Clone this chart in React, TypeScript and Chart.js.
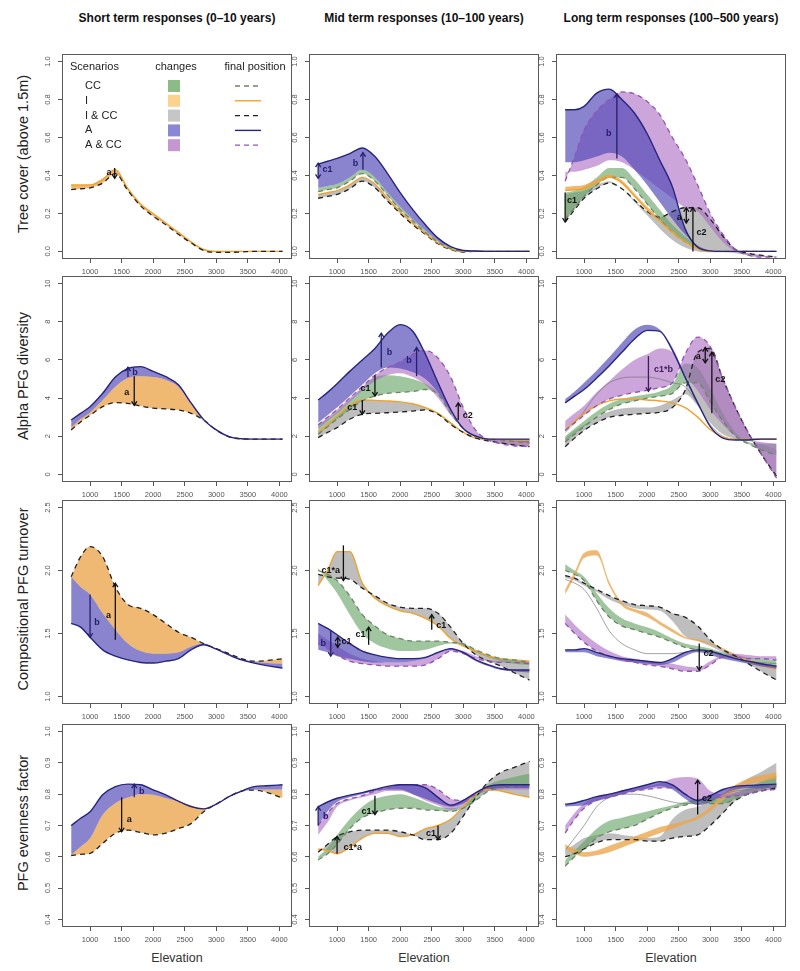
import React, { useEffect, useRef } from 'react';
import { Chart, registerables } from 'chart.js';

Chart.register(...registerables);
Chart.defaults.font.family = "'Liberation Sans', Arial, Helvetica, sans-serif";

// ---------- axes ----------
const ELEV = [700, 850, 1000, 1200, 1400, 1600, 1800, 2000, 2200, 2400, 2600, 2800, 3000, 3200, 3400, 3600, 3800, 4050];
const ELEV_TICKS = [1000, 1500, 2000, 2500, 3000, 3500, 4000];

const TREE_TICKS = [0, 0.2, 0.4, 0.6, 0.8, 1.0];
const TREE_TICK_LABELS = ['0.0', '0.2', '0.4', '0.6', '0.8', '1.0'];
const ALPHA_TICKS = [0, 2, 4, 6, 8, 10];
const ALPHA_TICK_LABELS = ['0', '2', '4', '6', '8', '10'];
const TURN_TICKS = [1.0, 1.5, 2.0, 2.5];
const TURN_TICK_LABELS = ['1.0', '1.5', '2.0', '2.5'];
const EVEN_TICKS = [0.4, 0.5, 0.6, 0.7, 0.8, 0.9, 1.0];
const EVEN_TICK_LABELS = ['0.4', '0.5', '0.6', '0.7', '0.8', '0.9', '1.0'];

const COLUMN_TITLES = ['Short term responses (0\u201310 years)', 'Mid term responses (10\u2013100 years)', 'Long term responses (100\u2013500 years)'];
const ROW_TITLES = ['Tree cover (above 1.5m)', 'Alpha PFG diversity', 'Compositional PFG turnover', 'PFG evenness factor'];
const LEGEND_LABELS = ['CC', 'I', 'I & CC', 'A', 'A & CC'];
const LEGEND_KEYS = ['CC', 'I', 'IC', 'A', 'ACC'];

// ---------- short term ----------
const treeShort_base = [0.35, 0.35, 0.35, 0.38, 0.43, 0.33, 0.25, 0.20, 0.15, 0.10, 0.05, 0.01, 0, 0, 0, 0, 0, 0];
const treeShort_I = [0.325, 0.33, 0.335, 0.36, 0.41, 0.32, 0.24, 0.185, 0.14, 0.09, 0.045, 0.005, -0.005, -0.005, -0.003, 0, 0, 0];

const alphaShort_base = [2.45, 2.9, 3.25, 3.9, 4.6, 5.05, 5.15, 5.1, 4.95, 4.6, 3.7, 2.85, 2.3, 1.98, 1.86, 1.85, 1.85, 1.85];
const alphaShort_A = [2.85, 3.2, 3.55, 4.25, 5.1, 5.55, 5.65, 5.4, 5.12, 4.7, 3.75, 2.87, 2.33, 1.98, 1.87, 1.85, 1.85, 1.85];
const alphaShort_I = [2.33, 2.75, 3.1, 3.55, 3.76, 3.72, 3.58, 3.47, 3.43, 3.37, 3.2, 2.85, 2.32, 1.97, 1.86, 1.85, 1.85, 1.85];

const turnShort_I = [1.95, 2.11, 2.19, 2.11, 1.87, 1.73, 1.70, 1.65, 1.58, 1.51, 1.47, 1.42, 1.38, 1.34, 1.30, 1.28, 1.285, 1.30];
const turnShort_base = [1.95, 1.87, 1.81, 1.66, 1.53, 1.42, 1.36, 1.34, 1.34, 1.35, 1.395, 1.42, 1.38, 1.34, 1.30, 1.275, 1.265, 1.26];
const turnShort_A = [1.58, 1.55, 1.47, 1.37, 1.32, 1.29, 1.27, 1.265, 1.28, 1.30, 1.37, 1.41, 1.375, 1.33, 1.29, 1.265, 1.245, 1.225];

const evenShort_A = [0.70, 0.723, 0.744, 0.798, 0.824, 0.832, 0.83, 0.814, 0.798, 0.778, 0.76, 0.753, 0.768, 0.792, 0.81, 0.824, 0.827, 0.83];
const evenShort_base = [0.606, 0.632, 0.659, 0.734, 0.771, 0.789, 0.80, 0.798, 0.787, 0.777, 0.764, 0.752, 0.768, 0.792, 0.808, 0.815, 0.815, 0.815];
const evenShort_I = [0.604, 0.608, 0.611, 0.643, 0.675, 0.685, 0.678, 0.67, 0.676, 0.69, 0.706, 0.744, 0.768, 0.792, 0.81, 0.813, 0.806, 0.787];

// ---------- mid term ----------
const treeMid_A = [0.46, 0.475, 0.49, 0.515, 0.545, 0.50, 0.41, 0.31, 0.22, 0.14, 0.07, 0.025, 0.005, 0.002, 0, 0, 0, 0];
const treeMid_base = [0.335, 0.345, 0.355, 0.39, 0.43, 0.39, 0.31, 0.235, 0.17, 0.11, 0.055, 0.02, 0.003, 0, 0, 0, 0, 0];
const treeMid_CC = [0.315, 0.325, 0.335, 0.37, 0.41, 0.37, 0.295, 0.22, 0.16, 0.10, 0.05, 0.015, 0.002, 0, 0, 0, 0, 0];
const treeMid_I = [0.30, 0.31, 0.32, 0.35, 0.39, 0.355, 0.28, 0.21, 0.15, 0.095, 0.045, 0.012, 0, 0, 0, 0, 0, 0];
const treeMid_IC = [0.28, 0.29, 0.30, 0.33, 0.37, 0.335, 0.265, 0.20, 0.14, 0.09, 0.04, 0.01, -0.003, 0, 0, 0, 0, 0];

const alphaMid_A = [3.9, 4.3, 4.75, 5.4, 6.0, 6.6, 7.4, 7.85, 7.5, 6.3, 4.8, 3.4, 2.4, 2.0, 1.85, 1.85, 1.85, 1.85];
const alphaMid_Abase = [2.7, 3.1, 3.5, 4.1, 4.7, 5.3, 5.6, 5.55, 5.35, 5.0, 4.3, 3.3, 2.45, 2.0, 1.85, 1.8, 1.75, 1.7];
const alphaMid_ACC = [2.6, 3.0, 3.4, 4.0, 4.6, 5.2, 5.6, 5.9, 6.3, 6.5, 6.1, 5.1, 3.5, 2.3, 1.8, 1.6, 1.5, 1.45];
const alphaMid_ACCbase = [2.4, 2.8, 3.2, 3.8, 4.4, 4.9, 5.2, 5.3, 5.1, 4.7, 4.0, 3.1, 2.4, 1.95, 1.85, 1.8, 1.75, 1.7];
const alphaMid_CCbase = [2.6, 2.9, 3.3, 3.9, 4.5, 5.1, 5.2, 5.15, 5.0, 4.75, 4.3, 3.3, 2.4, 2.0, 1.85, 1.8, 1.75, 1.7];
const alphaMid_CC = [2.1, 2.5, 2.9, 3.4, 3.85, 4.1, 4.25, 4.3, 4.35, 4.45, 4.2, 3.2, 2.4, 2.0, 1.85, 1.8, 1.72, 1.65];
const alphaMid_I = [2.2, 2.6, 3.06, 3.6, 3.9, 3.88, 3.85, 3.8, 3.7, 3.5, 3.2, 2.7, 2.2, 1.9, 1.85, 1.82, 1.8, 1.78];
const alphaMid_IC = [1.93, 2.2, 2.45, 2.89, 3.15, 3.2, 3.23, 3.27, 3.32, 3.38, 3.15, 2.62, 2.2, 1.9, 1.75, 1.65, 1.55, 1.45];

const turnMid_I = [1.88, 2.0, 2.15, 2.15, 1.9, 1.78, 1.72, 1.68, 1.66, 1.62, 1.56, 1.46, 1.40, 1.36, 1.32, 1.30, 1.29, 1.28];
const turnMid_IC = [1.97, 1.95, 1.94, 1.93, 1.86, 1.80, 1.74, 1.71, 1.70, 1.70, 1.66, 1.55, 1.42, 1.33, 1.28, 1.24, 1.19, 1.13];
const turnMid_CC = [2.0, 1.97, 1.92, 1.8, 1.65, 1.56, 1.49, 1.46, 1.44, 1.44, 1.44, 1.43, 1.42, 1.37, 1.33, 1.30, 1.29, 1.27];
const turnMid_CCbase = [2.02, 1.92, 1.82, 1.65, 1.5, 1.42, 1.38, 1.36, 1.36, 1.37, 1.40, 1.42, 1.40, 1.35, 1.31, 1.28, 1.26, 1.25];
const turnMid_A = [1.58, 1.54, 1.49, 1.42, 1.36, 1.33, 1.31, 1.30, 1.30, 1.31, 1.35, 1.38, 1.35, 1.29, 1.25, 1.22, 1.21, 1.21];
const turnMid_Abase = [1.37, 1.35, 1.32, 1.30, 1.28, 1.27, 1.27, 1.27, 1.28, 1.30, 1.34, 1.37, 1.34, 1.28, 1.24, 1.21, 1.20, 1.19];
const turnMid_ACC = [1.42, 1.38, 1.33, 1.28, 1.26, 1.25, 1.24, 1.24, 1.24, 1.25, 1.30, 1.36, 1.34, 1.30, 1.28, 1.27, 1.27, 1.26];
const turnMid_ACCbase = [1.5, 1.45, 1.40, 1.34, 1.3, 1.28, 1.27, 1.27, 1.28, 1.30, 1.34, 1.38, 1.36, 1.32, 1.29, 1.28, 1.27, 1.27];

const evenMid_A = [0.76, 0.775, 0.787, 0.797, 0.805, 0.815, 0.825, 0.83, 0.83, 0.82, 0.79, 0.765, 0.78, 0.805, 0.825, 0.83, 0.83, 0.83];
const evenMid_Abase = [0.70, 0.745, 0.775, 0.79, 0.80, 0.81, 0.815, 0.815, 0.80, 0.785, 0.77, 0.76, 0.77, 0.80, 0.815, 0.82, 0.82, 0.82];
const evenMid_ACC = [0.70, 0.74, 0.77, 0.785, 0.795, 0.81, 0.82, 0.83, 0.83, 0.83, 0.815, 0.785, 0.78, 0.80, 0.82, 0.825, 0.83, 0.83];
const evenMid_ACCbase = [0.67, 0.71, 0.76, 0.78, 0.79, 0.80, 0.81, 0.81, 0.80, 0.78, 0.765, 0.75, 0.765, 0.795, 0.81, 0.815, 0.815, 0.815];
const evenMid_CCbase = [0.60, 0.63, 0.67, 0.72, 0.76, 0.785, 0.795, 0.80, 0.79, 0.775, 0.76, 0.755, 0.765, 0.80, 0.83, 0.845, 0.855, 0.865];
const evenMid_CC = [0.59, 0.61, 0.64, 0.69, 0.725, 0.74, 0.75, 0.755, 0.755, 0.75, 0.748, 0.745, 0.755, 0.78, 0.81, 0.82, 0.825, 0.83];
const evenMid_I = [0.625, 0.62, 0.61, 0.63, 0.66, 0.675, 0.675, 0.665, 0.67, 0.69, 0.70, 0.72, 0.76, 0.80, 0.815, 0.81, 0.80, 0.79];
const evenMid_IC = [0.615, 0.64, 0.665, 0.68, 0.685, 0.685, 0.685, 0.68, 0.67, 0.655, 0.655, 0.675, 0.73, 0.79, 0.84, 0.87, 0.885, 0.905];

// ---------- long term ----------
const treeLong_A = [0.746, 0.746, 0.764, 0.834, 0.855, 0.80, 0.728, 0.62, 0.48, 0.34, 0.12, 0.022, 0.003, 0, 0, 0, 0, 0];
const treeLong_Abase = [0.47, 0.47, 0.48, 0.50, 0.52, 0.50, 0.43, 0.35, 0.26, 0.17, 0.09, 0.03, 0.005, 0, 0, 0, 0, 0];
const treeLong_ACC = [0.37, 0.5, 0.64, 0.74, 0.8, 0.84, 0.83, 0.79, 0.72, 0.6, 0.49, 0.35, 0.2, 0.09, 0.01, -0.02, -0.03, -0.03];
const treeLong_ACCbase = [0.42, 0.42, 0.43, 0.45, 0.48, 0.47, 0.43, 0.38, 0.33, 0.28, 0.23, 0.21, 0.13, 0.05, 0.0, -0.01, -0.02, -0.03];
const treeLong_IC = [0.155, 0.22, 0.28, 0.33, 0.36, 0.33, 0.27, 0.21, 0.18, 0.21, 0.23, 0.23, 0.17, 0.08, 0.01, -0.01, -0.02, -0.03];
const treeLong_ICbase = [0.30, 0.31, 0.32, 0.35, 0.37, 0.33, 0.26, 0.19, 0.12, 0.06, 0.02, 0.0, -0.005, -0.005, -0.01, -0.02, -0.025, -0.03];
const treeLong_CC = [0.17, 0.23, 0.29, 0.35, 0.39, 0.39, 0.33, 0.25, 0.17, 0.10, 0.05, 0.015, 0, 0, 0, 0, 0, 0];
const treeLong_CCbase = [0.31, 0.32, 0.34, 0.39, 0.44, 0.44, 0.38, 0.30, 0.22, 0.14, 0.08, 0.03, 0.005, 0, 0, 0, 0, 0];
const treeLong_I = [0.32, 0.325, 0.33, 0.36, 0.39, 0.36, 0.29, 0.22, 0.16, 0.10, 0.05, 0.015, 0, 0, 0, 0, 0, 0];
const treeLong_Ibase = [0.34, 0.345, 0.35, 0.38, 0.405, 0.375, 0.305, 0.235, 0.17, 0.11, 0.055, 0.02, 0, 0, 0, 0, 0, 0];

const alphaLong_A = [3.75, 4.1, 4.45, 5.05, 5.7, 6.4, 7.1, 7.55, 7.5, 6.5, 5.1, 3.75, 2.5, 1.9, 1.8, 1.8, 1.85, 1.85];
const alphaLong_Abase = [3.95, 4.35, 4.8, 5.45, 6.15, 6.9, 7.6, 7.85, 7.6, 6.65, 5.2, 3.8, 2.5, 1.9, 1.8, 1.8, 1.85, 1.85];
const alphaLong_ACC = [2.3, 2.7, 3.1, 3.6, 3.95, 4.15, 4.3, 4.4, 4.55, 4.8, 6.3, 7.2, 6.7, 5.0, 3.5, 2.2, 1.1, -0.2];
const alphaLong_ACCbase = [2.8, 3.2, 3.6, 4.3, 4.9, 5.5, 6.0, 6.3, 6.6, 6.4, 5.2, 4.4, 3.4, 2.6, 2.0, 1.8, 1.7, 1.6];
const alphaLong_IC = [1.45, 1.9, 2.3, 2.7, 3.0, 3.1, 3.15, 3.2, 3.25, 3.5, 4.4, 6.4, 6.6, 5.0, 3.5, 2.2, 1.1, -0.1];
const alphaLong_ICbase = [1.9, 2.3, 2.6, 3.0, 3.3, 3.45, 3.5, 3.5, 3.6, 3.9, 4.2, 3.6, 2.7, 2.1, 1.85, 1.75, 1.6, 1.3];
const alphaLong_CC = [1.7, 2.1, 2.5, 3.0, 3.4, 3.7, 3.85, 4.0, 4.1, 4.25, 4.8, 4.8, 3.8, 2.8, 2.0, 1.6, 1.3, 1.0];
const alphaLong_CCbase = [2.0, 2.4, 2.8, 3.3, 3.7, 3.95, 4.1, 4.2, 4.35, 4.7, 5.8, 5.6, 4.5, 3.2, 2.2, 1.7, 1.6, 1.6];
const alphaLong_I = [2.3, 2.8, 3.2, 3.6, 3.85, 3.95, 3.95, 3.9, 3.85, 3.75, 3.5, 3.0, 2.35, 1.95, 1.85, 1.85, 1.85, 1.85];
const alphaLong_ref = [2.2, 2.7, 3.3, 4.2, 4.8, 5.05, 5.1, 5.1, 5.0, 4.8, 4.6, 3.7, 2.6, 2.0, 1.85, 1.85, 1.85, 1.85];

const turnLong_Ibase = [1.85, 1.99, 2.14, 2.16, 1.91, 1.745, 1.695, 1.665, 1.595, 1.535, 1.475, 1.455, 1.425, 1.385, 1.335, 1.295, 1.265, 1.245];
const turnLong_I = [1.81, 1.95, 2.1, 2.12, 1.88, 1.72, 1.67, 1.63, 1.57, 1.51, 1.46, 1.44, 1.41, 1.37, 1.31, 1.27, 1.24, 1.21];
const turnLong_CCbase = [2.05, 2.0, 1.95, 1.82, 1.7, 1.62, 1.58, 1.55, 1.51, 1.46, 1.42, 1.4, 1.38, 1.35, 1.33, 1.31, 1.3, 1.29];
const turnLong_CC = [2.0, 1.97, 1.92, 1.76, 1.63, 1.56, 1.53, 1.5, 1.47, 1.43, 1.39, 1.37, 1.35, 1.33, 1.3, 1.27, 1.26, 1.24];
const turnLong_IC = [1.96, 1.94, 1.9, 1.85, 1.8, 1.76, 1.73, 1.72, 1.71, 1.66, 1.63, 1.56, 1.45, 1.37, 1.32, 1.26, 1.2, 1.13];
const turnLong_ICbase = [1.94, 1.92, 1.88, 1.83, 1.77, 1.73, 1.7, 1.69, 1.68, 1.6, 1.48, 1.44, 1.4, 1.35, 1.31, 1.28, 1.26, 1.25];
const turnLong_ACC = [1.58, 1.5, 1.43, 1.36, 1.32, 1.29, 1.27, 1.25, 1.24, 1.22, 1.2, 1.2, 1.25, 1.31, 1.31, 1.3, 1.3, 1.29];
const turnLong_ACCbase = [1.65, 1.57, 1.5, 1.42, 1.36, 1.32, 1.3, 1.28, 1.27, 1.26, 1.24, 1.23, 1.28, 1.33, 1.34, 1.33, 1.32, 1.32];
const turnLong_A = [1.37, 1.37, 1.38, 1.35, 1.32, 1.3, 1.29, 1.28, 1.27, 1.3, 1.35, 1.37, 1.36, 1.33, 1.3, 1.28, 1.26, 1.24];
const turnLong_Abase = [1.35, 1.35, 1.35, 1.32, 1.3, 1.28, 1.27, 1.26, 1.25, 1.27, 1.32, 1.35, 1.33, 1.3, 1.28, 1.26, 1.24, 1.22];
const turnLong_ref = [1.93, 1.9, 1.85, 1.7, 1.52, 1.42, 1.37, 1.34, 1.34, 1.34, 1.35, 1.36, 1.35, 1.32, 1.3, 1.28, 1.27, 1.26];

const evenLong_A = [0.768, 0.772, 0.78, 0.792, 0.80, 0.81, 0.82, 0.83, 0.84, 0.83, 0.80, 0.78, 0.795, 0.815, 0.825, 0.828, 0.83, 0.832];
const evenLong_Abase = [0.76, 0.762, 0.765, 0.778, 0.788, 0.80, 0.81, 0.818, 0.825, 0.815, 0.785, 0.765, 0.775, 0.80, 0.815, 0.82, 0.82, 0.822];
const evenLong_ACC = [0.676, 0.72, 0.755, 0.78, 0.79, 0.80, 0.81, 0.815, 0.82, 0.82, 0.80, 0.78, 0.79, 0.79, 0.795, 0.80, 0.81, 0.815];
const evenLong_ACCbase = [0.70, 0.74, 0.77, 0.79, 0.80, 0.81, 0.82, 0.825, 0.835, 0.85, 0.855, 0.85, 0.81, 0.80, 0.805, 0.815, 0.82, 0.825];
const evenLong_CCbase = [0.59, 0.62, 0.65, 0.69, 0.715, 0.725, 0.735, 0.745, 0.755, 0.765, 0.775, 0.785, 0.79, 0.79, 0.805, 0.82, 0.84, 0.86];
const evenLong_CC = [0.57, 0.6, 0.625, 0.66, 0.68, 0.69, 0.7, 0.72, 0.74, 0.755, 0.765, 0.775, 0.77, 0.77, 0.785, 0.80, 0.815, 0.83];
const evenLong_ICbase = [0.62, 0.64, 0.66, 0.67, 0.675, 0.67, 0.665, 0.66, 0.665, 0.72, 0.75, 0.76, 0.78, 0.8, 0.82, 0.85, 0.87, 0.9];
const evenLong_IC = [0.6, 0.61, 0.625, 0.645, 0.655, 0.655, 0.655, 0.65, 0.65, 0.66, 0.665, 0.67, 0.7, 0.74, 0.78, 0.8, 0.81, 0.82];
const evenLong_Ibase = [0.64, 0.625, 0.615, 0.62, 0.635, 0.65, 0.665, 0.68, 0.695, 0.705, 0.715, 0.73, 0.76, 0.8, 0.83, 0.85, 0.86, 0.87];
const evenLong_I = [0.625, 0.61, 0.6, 0.605, 0.615, 0.63, 0.645, 0.66, 0.675, 0.69, 0.705, 0.72, 0.745, 0.78, 0.81, 0.83, 0.84, 0.85];
const evenLong_ref = [0.62, 0.66, 0.7, 0.76, 0.79, 0.80, 0.80, 0.795, 0.785, 0.775, 0.77, 0.77, 0.78, 0.8, 0.81, 0.815, 0.82, 0.825];

// ---------- arrows (elevation, from, to, label, label position) ----------
const NAVY_TXT = '#23206e';
const treeShort_arrows = [{ x: 1390, y0: 0.44, y1: 0.385, text: 'a', tx: 1300, ty: 0.415 }];
const alphaShort_arrows = [
  { x: 1600, y0: 5.1, y1: 5.62, text: 'b', tx: 1710, ty: 5.35, navy: true },
  { x: 1700, y0: 5.15, y1: 3.62, text: 'a', tx: 1580, ty: 4.3 },
];
const turnShort_arrows = [
  { x: 1000, y0: 1.81, y1: 1.47, text: 'b', tx: 1110, ty: 1.59, navy: true },
  { x: 1400, y0: 1.45, y1: 1.9, text: 'a', tx: 1290, ty: 1.64 },
];
const evenShort_arrows = [
  { x: 1700, y0: 0.79, y1: 0.832, text: 'b', tx: 1820, ty: 0.81, navy: true },
  { x: 1500, y0: 0.79, y1: 0.68, text: 'a', tx: 1620, ty: 0.72 },
];
const treeMid_arrows = [
  { x: 700, y0: 0.385, y1: 0.465, both: true, text: 'c1', tx: 850, ty: 0.43, navy: true },
  { x: 1410, y0: 0.43, y1: 0.52, text: 'b', tx: 1290, ty: 0.465, navy: true },
];
const alphaMid_arrows = [
  { x: 1700, y0: 5.6, y1: 7.4, text: 'b', tx: 1830, ty: 6.4, navy: true },
  { x: 2260, y0: 5.15, y1: 6.65, text: 'b', tx: 2140, ty: 5.95, navy: true },
  { x: 1600, y0: 5.2, y1: 4.1, text: 'c1', tx: 1450, ty: 4.5 },
  { x: 1400, y0: 3.9, y1: 3.15, text: 'c1', tx: 1240, ty: 3.5 },
  { x: 2920, y0: 2.85, y1: 3.75, text: 'c2', tx: 3070, ty: 3.1 },
];
const turnMid_arrows = [
  { x: 1100, y0: 2.2, y1: 1.92, text: 'c1*a', tx: 900, ty: 2.0 },
  { x: 900, y0: 1.52, y1: 1.32, text: 'b', tx: 780, ty: 1.42, navy: true },
  { x: 1010, y0: 1.47, y1: 1.39, both: true, text: 'c1', tx: 1150, ty: 1.44 },
  { x: 1500, y0: 1.41, y1: 1.55, text: 'c1', tx: 1370, ty: 1.49 },
  { x: 2500, y0: 1.53, y1: 1.65, text: 'c1', tx: 2650, ty: 1.56 },
];
const evenMid_arrows = [
  { x: 700, y0: 0.70, y1: 0.76, text: 'b', tx: 820, ty: 0.73, navy: true },
  { x: 1600, y0: 0.795, y1: 0.735, text: 'c1', tx: 1465, ty: 0.745 },
  { x: 1000, y0: 0.61, y1: 0.665, text: 'c1*a', tx: 1250, ty: 0.63 },
  { x: 2600, y0: 0.70, y1: 0.655, text: 'c1', tx: 2490, ty: 0.676 },
];
const treeLong_arrows = [
  { x: 1520, y0: 0.49, y1: 0.83, text: 'b', tx: 1390, ty: 0.62, navy: true },
  { x: 700, y0: 0.31, y1: 0.155, text: 'c1', tx: 810, ty: 0.27 },
  { x: 2620, y0: 0.15, y1: 0.23, both: true, text: 'a', tx: 2510, ty: 0.18 },
  { x: 2725, y0: 0.0, y1: 0.23, text: 'c2', tx: 2860, ty: 0.1 },
];
const alphaLong_arrows = [
  { x: 2020, y0: 6.2, y1: 4.35, text: 'c1*b', tx: 2260, ty: 5.5, purple: true },
  { x: 2920, y0: 5.85, y1: 6.65, both: true, text: 'a', tx: 2810, ty: 6.2 },
  { x: 3025, y0: 3.2, y1: 6.4, text: 'c2', tx: 3160, ty: 4.95 },
];
const turnLong_arrows = [{ x: 2825, y0: 1.42, y1: 1.21, text: 'c2', tx: 2970, ty: 1.34 }];
const evenLong_arrows = [{ x: 2800, y0: 0.735, y1: 0.845, text: 'c2', tx: 2950, ty: 0.785 }];

// ---------- styles ----------
const FILL: Record<string, string> = {
  CC: 'rgba(95,160,95,0.6)',
  I: 'rgba(235,165,75,0.78)',
  IC: 'rgba(125,125,125,0.5)',
  A: 'rgba(78,68,180,0.66)',
  ACC: 'rgba(170,105,195,0.6)',
};
const SWATCH: Record<string, string> = {
  CC: '#8dbb88', I: '#fbd38f', IC: '#c6c6c6', A: '#8a88d4', ACC: '#c597d0',
};
const LINE: Record<string, { color: string; dash: number[]; width: number }> = {
  CC: { color: '#6d8466', dash: [5, 4], width: 1.3 },
  I: { color: '#f0a22e', dash: [], width: 1.4 },
  IC: { color: '#222222', dash: [5, 4], width: 1.3 },
  A: { color: '#27247e', dash: [], width: 1.4 },
  ACC: { color: '#8f56b0', dash: [5, 4], width: 1.3 },
  REF: { color: 'rgba(110,110,110,0.8)', dash: [], width: 0.8 },
};

const ROWS = [
  { top: 54, h: 205, min: -0.04, max: 1.04, ticks: TREE_TICKS, labels: TREE_TICK_LABELS },
  { top: 276, h: 206, min: -0.4, max: 10.4, ticks: ALPHA_TICKS, labels: ALPHA_TICK_LABELS },
  { top: 500, h: 204, min: 0.94, max: 2.56, ticks: TURN_TICKS, labels: TURN_TICK_LABELS },
  { top: 724, h: 203, min: 0.376, max: 1.024, ticks: EVEN_TICKS, labels: EVEN_TICK_LABELS },
];
const COLS = [62, 309, 556];
const BOX_W = 230;

type Band = { scen: string; from: number[]; to: number[] };
type Ln = { scen: string; data: number[] };
type Spec = { row: number; col: number; bands: Band[]; lines: Ln[]; arrows: any[]; legend?: boolean };

const PANELS: Spec[] = [
  { row: 0, col: 0, legend: true,
    bands: [{ scen: 'I', from: treeShort_base, to: treeShort_I }],
    lines: [{ scen: 'I', data: treeShort_base }, { scen: 'IC', data: treeShort_I }],
    arrows: treeShort_arrows },
  { row: 1, col: 0,
    bands: [{ scen: 'I', from: alphaShort_base, to: alphaShort_I }, { scen: 'A', from: alphaShort_base, to: alphaShort_A }],
    lines: [{ scen: 'IC', data: alphaShort_I }, { scen: 'A', data: alphaShort_A }],
    arrows: alphaShort_arrows },
  { row: 2, col: 0,
    bands: [{ scen: 'I', from: turnShort_base, to: turnShort_I }, { scen: 'A', from: turnShort_base, to: turnShort_A }],
    lines: [{ scen: 'IC', data: turnShort_I }, { scen: 'A', data: turnShort_A }],
    arrows: turnShort_arrows },
  { row: 3, col: 0,
    bands: [{ scen: 'I', from: evenShort_base, to: evenShort_I }, { scen: 'A', from: evenShort_base, to: evenShort_A }],
    lines: [{ scen: 'IC', data: evenShort_I }, { scen: 'A', data: evenShort_A }],
    arrows: evenShort_arrows },
  { row: 0, col: 1,
    bands: [{ scen: 'IC', from: treeMid_I, to: treeMid_IC }, { scen: 'CC', from: treeMid_base, to: treeMid_CC }, { scen: 'A', from: treeMid_base, to: treeMid_A }],
    lines: [{ scen: 'IC', data: treeMid_IC }, { scen: 'I', data: treeMid_I }, { scen: 'CC', data: treeMid_CC }, { scen: 'A', data: treeMid_A }],
    arrows: treeMid_arrows },
  { row: 1, col: 1,
    bands: [{ scen: 'IC', from: alphaMid_I, to: alphaMid_IC }, { scen: 'CC', from: alphaMid_CCbase, to: alphaMid_CC }, { scen: 'ACC', from: alphaMid_ACCbase, to: alphaMid_ACC }, { scen: 'A', from: alphaMid_Abase, to: alphaMid_A }],
    lines: [{ scen: 'I', data: alphaMid_I }, { scen: 'IC', data: alphaMid_IC }, { scen: 'CC', data: alphaMid_CC }, { scen: 'ACC', data: alphaMid_ACC }, { scen: 'A', data: alphaMid_A }],
    arrows: alphaMid_arrows },
  { row: 2, col: 1,
    bands: [{ scen: 'IC', from: turnMid_I, to: turnMid_IC }, { scen: 'CC', from: turnMid_CCbase, to: turnMid_CC }, { scen: 'ACC', from: turnMid_ACCbase, to: turnMid_ACC }, { scen: 'A', from: turnMid_Abase, to: turnMid_A }],
    lines: [{ scen: 'I', data: turnMid_I }, { scen: 'IC', data: turnMid_IC }, { scen: 'CC', data: turnMid_CC }, { scen: 'ACC', data: turnMid_ACC }, { scen: 'A', data: turnMid_A }],
    arrows: turnMid_arrows },
  { row: 3, col: 1,
    bands: [{ scen: 'IC', from: evenMid_I, to: evenMid_IC }, { scen: 'CC', from: evenMid_CCbase, to: evenMid_CC }, { scen: 'ACC', from: evenMid_ACCbase, to: evenMid_ACC }, { scen: 'A', from: evenMid_Abase, to: evenMid_A }],
    lines: [{ scen: 'I', data: evenMid_I }, { scen: 'IC', data: evenMid_IC }, { scen: 'CC', data: evenMid_CC }, { scen: 'ACC', data: evenMid_ACC }, { scen: 'A', data: evenMid_A }],
    arrows: evenMid_arrows },
  { row: 0, col: 2,
    bands: [{ scen: 'IC', from: treeLong_ICbase, to: treeLong_IC }, { scen: 'CC', from: treeLong_CCbase, to: treeLong_CC }, { scen: 'I', from: treeLong_Ibase, to: treeLong_I }, { scen: 'ACC', from: treeLong_ACCbase, to: treeLong_ACC }, { scen: 'A', from: treeLong_Abase, to: treeLong_A }],
    lines: [{ scen: 'IC', data: treeLong_IC }, { scen: 'CC', data: treeLong_CC }, { scen: 'I', data: treeLong_I }, { scen: 'ACC', data: treeLong_ACC }, { scen: 'A', data: treeLong_A }],
    arrows: treeLong_arrows },
  { row: 1, col: 2,
    bands: [{ scen: 'IC', from: alphaLong_ICbase, to: alphaLong_IC }, { scen: 'CC', from: alphaLong_CCbase, to: alphaLong_CC }, { scen: 'ACC', from: alphaLong_ACCbase, to: alphaLong_ACC }, { scen: 'A', from: alphaLong_Abase, to: alphaLong_A }],
    lines: [{ scen: 'REF', data: alphaLong_ref }, { scen: 'I', data: alphaLong_I }, { scen: 'IC', data: alphaLong_IC }, { scen: 'CC', data: alphaLong_CC }, { scen: 'ACC', data: alphaLong_ACC }, { scen: 'A', data: alphaLong_A }],
    arrows: alphaLong_arrows },
  { row: 2, col: 2,
    bands: [{ scen: 'IC', from: turnLong_ICbase, to: turnLong_IC }, { scen: 'CC', from: turnLong_CCbase, to: turnLong_CC }, { scen: 'I', from: turnLong_Ibase, to: turnLong_I }, { scen: 'ACC', from: turnLong_ACCbase, to: turnLong_ACC }, { scen: 'A', from: turnLong_Abase, to: turnLong_A }],
    lines: [{ scen: 'REF', data: turnLong_ref }, { scen: 'IC', data: turnLong_IC }, { scen: 'CC', data: turnLong_CC }, { scen: 'ACC', data: turnLong_ACC }, { scen: 'A', data: turnLong_A }],
    arrows: turnLong_arrows },
  { row: 3, col: 2,
    bands: [{ scen: 'IC', from: evenLong_ICbase, to: evenLong_IC }, { scen: 'CC', from: evenLong_CCbase, to: evenLong_CC }, { scen: 'I', from: evenLong_Ibase, to: evenLong_I }, { scen: 'ACC', from: evenLong_ACCbase, to: evenLong_ACC }, { scen: 'A', from: evenLong_Abase, to: evenLong_A }],
    lines: [{ scen: 'REF', data: evenLong_ref }, { scen: 'IC', data: evenLong_IC }, { scen: 'CC', data: evenLong_CC }, { scen: 'ACC', data: evenLong_ACC }, { scen: 'A', data: evenLong_A }],
    arrows: evenLong_arrows },
];

const PAD_L = 24, PAD_T = 4, PAD_R = 4, AX_H = 22;
const FONT = "'Liberation Sans', Arial, Helvetica, sans-serif";

const pts = (arr: number[]) => arr.map((y, i) => ({ x: ELEV[i], y }));

function drawArrow(ctx: CanvasRenderingContext2D, x: number, ya: number, yb: number, both: boolean, color: string) {
  ctx.save();
  ctx.strokeStyle = color;
  ctx.lineWidth = 1.3;
  ctx.beginPath();
  ctx.moveTo(x, ya);
  ctx.lineTo(x, yb);
  ctx.stroke();
  const head = (tipY: number, dir: number) => {
    ctx.beginPath();
    ctx.moveTo(x - 2.6, tipY - dir * 4);
    ctx.lineTo(x, tipY);
    ctx.lineTo(x + 2.6, tipY - dir * 4);
    ctx.stroke();
  };
  const dir = yb > ya ? 1 : -1;
  head(yb, dir);
  if (both) head(ya, -dir);
  ctx.restore();
}

function Panel({ spec }: { spec: Spec }) {
  const ref = useRef<HTMLCanvasElement | null>(null);
  const row = ROWS[spec.row];
  const bx = COLS[spec.col];
  const w = BOX_W + PAD_L + PAD_R;
  const h = row.h + PAD_T + AX_H;

  useEffect(() => {
    if (!ref.current) return;
    const datasets: any[] = [];
    let ord = 200;
    spec.bands.forEach((b) => {
      datasets.push({ data: pts(b.from), borderColor: 'rgba(0,0,0,0)', borderWidth: 1, fill: '+1', backgroundColor: FILL[b.scen], order: ord });
      datasets.push({ data: pts(b.to), borderColor: 'rgba(0,0,0,0)', borderWidth: 1, fill: false, order: ord - 1 });
      ord -= 2;
    });
    spec.lines.forEach((l, i) => {
      const st = LINE[l.scen];
      datasets.push({ data: pts(l.data), borderColor: st.color, borderWidth: st.width, borderDash: st.dash, fill: false, order: 50 - i });
    });

    const decor = {
      id: 'decor',
      afterDraw(chart: any) {
        const { ctx, chartArea: a, scales } = chart;
        const xs = scales.x, ys = scales.y;
        ctx.save();
        ctx.save();
        ctx.beginPath();
        ctx.rect(a.left, a.top, a.right - a.left, a.bottom - a.top);
        ctx.clip();
        spec.arrows.forEach((ar: any) => {
          const col = ar.navy ? NAVY_TXT : ar.purple ? '#3a1f5c' : '#111111';
          const px = xs.getPixelForValue(ar.x);
          drawArrow(ctx, px, ys.getPixelForValue(ar.y0), ys.getPixelForValue(ar.y1), !!ar.both, col);
          ctx.fillStyle = col;
          ctx.font = `bold 9px ${FONT}`;
          ctx.textAlign = 'center';
          ctx.textBaseline = 'middle';
          ctx.fillText(ar.text, xs.getPixelForValue(ar.tx), ys.getPixelForValue(ar.ty));
        });
        ctx.restore();
        ctx.strokeStyle = '#5a5a5a';
        ctx.lineWidth = 1;
        ctx.strokeRect(a.left + 0.5, a.top + 0.5, a.right - a.left - 1, a.bottom - a.top - 1);
        ctx.fillStyle = '#555555';
        ctx.font = `7.5px ${FONT}`;
        ctx.textAlign = 'center';
        ctx.textBaseline = 'middle';
        row.ticks.forEach((v, i) => {
          const py = ys.getPixelForValue(v);
          ctx.save();
          ctx.translate(a.left - 14, py);
          ctx.rotate(-Math.PI / 2);
          ctx.fillText(row.labels[i], 0, 0);
          ctx.restore();
        });
        if (spec.legend) {
          const L = a.left, T = a.top;
          ctx.fillStyle = '#222222';
          ctx.font = `11px ${FONT}`;
          ctx.textBaseline = 'middle';
          ctx.textAlign = 'left';
          ctx.fillText('Scenarios', L + 8, T + 13);
          ctx.textAlign = 'center';
          ctx.fillText('changes', L + 114, T + 13);
          ctx.fillText('final position', L + 193, T + 13);
          LEGEND_KEYS.forEach((k, i) => {
            const yy = T + 32 + i * 14.8;
            ctx.textAlign = 'left';
            ctx.fillStyle = '#222222';
            ctx.fillText(LEGEND_LABELS[i], L + 23, yy);
            ctx.fillStyle = SWATCH[k];
            ctx.fillRect(L + 106, yy - 6, 12, 12);
            const st = LINE[k];
            ctx.save();
            ctx.strokeStyle = st.color;
            ctx.lineWidth = st.width;
            ctx.setLineDash(st.dash);
            ctx.beginPath();
            ctx.moveTo(L + 173, yy);
            ctx.lineTo(L + 199, yy);
            ctx.stroke();
            ctx.restore();
          });
        }
        ctx.restore();
      },
    };

    const chart = new Chart(ref.current, {
      type: 'line',
      data: { datasets },
      options: {
        animation: false,
        responsive: false,
        devicePixelRatio: 1,
        events: [],
        layout: { padding: { left: 0, top: PAD_T, right: PAD_R, bottom: 0 } },
        elements: { point: { radius: 0 }, line: { cubicInterpolationMode: 'monotone' } },
        plugins: { legend: { display: false }, tooltip: { enabled: false } },
        scales: {
          x: {
            type: 'linear',
            min: 555,
            max: 4200,
            afterBuildTicks: (s: any) => { s.ticks = ELEV_TICKS.map((v) => ({ value: v })); },
            afterFit: (s: any) => { s.height = AX_H; },
            grid: { drawOnChartArea: false, drawTicks: true, tickLength: 4, color: '#555555' },
            border: { display: false },
            ticks: { font: { size: 7.5 }, color: '#555555', padding: 4, maxRotation: 0, autoSkip: false, callback: (v: any) => String(v) },
          },
          y: {
            type: 'linear',
            min: row.min,
            max: row.max,
            afterBuildTicks: (s: any) => { s.ticks = row.ticks.map((v) => ({ value: v })); },
            afterFit: (s: any) => { s.width = PAD_L; },
            grid: { drawOnChartArea: false, drawTicks: true, tickLength: 4, color: '#555555' },
            border: { display: false },
            ticks: { display: false },
          },
        },
      },
      plugins: [decor],
    } as any);
    return () => chart.destroy();
  }, []);

  return (
    <canvas
      ref={ref}
      width={w}
      height={h}
      style={{ position: 'absolute', left: bx - PAD_L, top: row.top - PAD_T, width: w, height: h }}
    />
  );
}

export default function App() {
  const colCenters = COLS.map((c) => c + BOX_W / 2);
  return (
    <div style={{ position: 'absolute', left: 0, top: 0, width: 800, height: 971, background: '#ffffff', fontFamily: FONT, overflow: 'hidden' }}>
      {COLUMN_TITLES.map((t, i) => (
        <div key={t} style={{ position: 'absolute', left: colCenters[i], top: 18, transform: 'translate(-50%,-50%)', whiteSpace: 'nowrap', fontWeight: 'bold', fontSize: 12, color: '#111' }}>{t}</div>
      ))}
      {ROW_TITLES.map((t, i) => (
        <div key={t} style={{ position: 'absolute', left: 23, top: ROWS[i].top + ROWS[i].h / 2 - 3, transform: 'translate(-50%,-50%) rotate(-90deg)', whiteSpace: 'nowrap', fontSize: 14.5, color: '#222' }}>{t}</div>
      ))}
      {colCenters.map((c, i) => (
        <div key={'el' + i} style={{ position: 'absolute', left: c, top: 958, transform: 'translate(-50%,-50%)', whiteSpace: 'nowrap', fontSize: 12.5, color: '#333' }}>Elevation</div>
      ))}
      {PANELS.map((p) => (
        <Panel key={`${p.row}-${p.col}`} spec={p} />
      ))}
    </div>
  );
}
